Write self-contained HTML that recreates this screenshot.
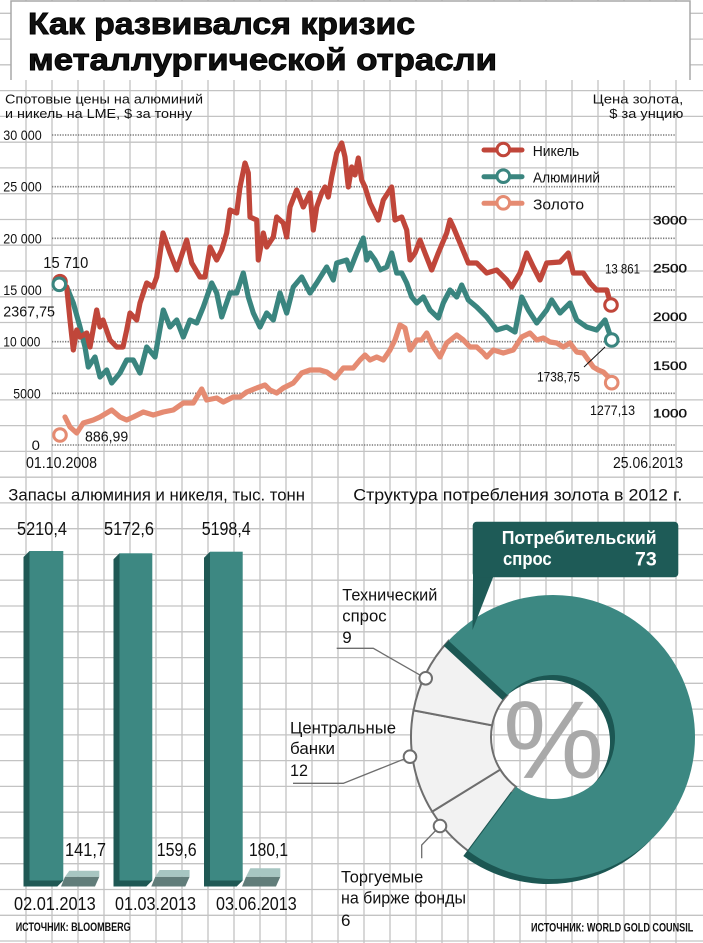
<!DOCTYPE html>
<html><head><meta charset="utf-8">
<style>
html,body{margin:0;padding:0;background:#fff;}
svg{display:block;}
text{font-family:"Liberation Sans","DejaVu Sans",sans-serif;fill:#111;}
</style></head>
<body>
<svg width="703" height="943" viewBox="0 0 703 943" xmlns="http://www.w3.org/2000/svg">
<rect width="703" height="943" fill="#fff"/>
<!-- grid -->
<path stroke="#c3c3c3" stroke-width="1.3" fill="none" d="M26 0V943M52 0V943M78 0V943M104 0V943M130 0V943M156 0V943M182 0V943M208 0V943M234 0V943M260 0V943M286 0V943M312 0V943M338 0V943M364 0V943M390 0V943M416 0V943M442 0V943M468 0V943M494 0V943M520 0V943M546 0V943M572 0V943M598 0V943M624 0V943M650 0V943M676 0V943
M0 13.3H703M0 39.1H703M0 64.8H703M0 90.6H703M0 116.4H703M0 142.2H703M0 167.9H703M0 193.7H703M0 219.5H703M0 245.2H703M0 271H703M0 296.8H703M0 322.5H703M0 348.3H703M0 374.1H703M0 399.9H703M0 425.6H703M0 451.4H703M0 477.2H703M0 502.9H703M0 528.7H703M0 554.5H703M0 580.2H703M0 606H703M0 631.8H703M0 657.6H703M0 683.3H703M0 709.1H703M0 734.9H703M0 760.6H703M0 786.4H703M0 812.2H703M0 837.9H703M0 863.7H703M0 889.5H703M0 915.3H703M0 941H703"/>
<!-- title box -->
<rect x="11" y="1" width="679" height="79" fill="#fff"/>
<path d="M11 80V1H690V80" fill="none" stroke="#a8a8a8" stroke-width="1.5"/>
<text x="28" y="34" font-size="31" font-weight="bold" stroke="#000" stroke-width="0.9" textLength="387" lengthAdjust="spacingAndGlyphs">Как развивался кризис</text>
<text x="28" y="70" font-size="31" font-weight="bold" stroke="#000" stroke-width="0.9" textLength="469" lengthAdjust="spacingAndGlyphs">металлургической отрасли</text>

<!-- subtitles -->
<text x="5" y="103.5" font-size="13" textLength="198" lengthAdjust="spacingAndGlyphs">Спотовые цены на алюминий</text>
<text x="5" y="118" font-size="13" textLength="187" lengthAdjust="spacingAndGlyphs">и никель на LME, $ за тонну</text>
<text x="592.7" y="103.5" font-size="13" textLength="90.6" lengthAdjust="spacingAndGlyphs">Цена золота,</text>
<text x="609.3" y="118" font-size="13" textLength="74" lengthAdjust="spacingAndGlyphs">$ за унцию</text>

<!-- dotted lines -->
<path stroke="#7a7a7a" stroke-width="1.6" stroke-dasharray="1.3 1.3" fill="none" d="M52 135H675M52 186.7H675M52 238.3H675M52 290H675M52 341.7H675M52 393.3H675M52 445H675"/>

<!-- left axis -->
<g font-size="14">
<text x="3.3" y="140" textLength="38.4" lengthAdjust="spacingAndGlyphs">30 000</text>
<text x="3.3" y="191.7" textLength="38.4" lengthAdjust="spacingAndGlyphs">25 000</text>
<text x="3.3" y="243.3" textLength="38.4" lengthAdjust="spacingAndGlyphs">20 000</text>
<text x="3.3" y="295" textLength="38.4" lengthAdjust="spacingAndGlyphs">15 000</text>
<text x="3.3" y="346.7" textLength="37" lengthAdjust="spacingAndGlyphs">10 000</text>
<text x="13.3" y="398.3" textLength="27.4" lengthAdjust="spacingAndGlyphs">5000</text>
<text x="31.7" y="450" textLength="8.3" lengthAdjust="spacingAndGlyphs">0</text>
</g>
<!-- right axis -->
<g font-size="12" stroke="#111" stroke-width="0.35">
<text x="653" y="224.3" textLength="34" lengthAdjust="spacingAndGlyphs">3000</text>
<text x="653" y="272.7" textLength="34" lengthAdjust="spacingAndGlyphs">2500</text>
<text x="653" y="321" textLength="34" lengthAdjust="spacingAndGlyphs">2000</text>
<text x="653" y="370" textLength="34" lengthAdjust="spacingAndGlyphs">1500</text>
<text x="653" y="417.7" textLength="34" lengthAdjust="spacingAndGlyphs">1000</text>
</g>
<text x="26" y="468" font-size="16" textLength="71" lengthAdjust="spacingAndGlyphs">01.10.2008</text>
<text x="613" y="468" font-size="16" textLength="70" lengthAdjust="spacingAndGlyphs">25.06.2013</text>

<!-- series -->
<g fill="none" stroke-width="5.2" stroke-linejoin="round" stroke-linecap="round">
<polyline stroke="#e58b72" points="65,417 70,427 76.7,433 83.3,423 93.3,420 100,417 106.7,413 111.7,410 120,417 126.7,420 133.3,417 143.3,412 153.3,415 163.3,412 173.3,410 183.3,403 193.3,403 201.7,389 206.7,400 216.7,398 223.3,402 233.3,397 240,397 246.7,392 256.7,388 265,385 270,390 276.7,393 283.3,388 293.3,383 301.7,373 310,370 320,370 326.7,372 335,378 343.3,368 353.3,368 360,360 365,355 370,360 376.7,357 383.3,360 390,350 395,340 400,325 405,328 410,350 416.7,340 421.7,340 426.7,333 433.3,347 440,357 446.7,343 456.7,335 463.3,340 470,347 476.7,347 483.3,353 486.7,357 493.3,350 503.3,353 513.3,350 521.7,337 530,333 536.7,340 543.3,338 550,342 556.7,343 563.3,347 570,343 576.7,352 583.3,353 588.3,360 593.3,367 598.3,370 603.3,372 608.3,377 611.7,383"/>
<polyline stroke="#3a857f" points="59.3,284 66.7,287 73.3,303 80,327 85,347 88.3,367 95,357 100,377 106.7,370 111.7,383 120,373 126.7,360 133.3,360 140,373 146.7,347 155,357 163.3,310 170,327 176.7,320 183.3,337 190,320 196.7,323 203.3,307 211.7,283 216.7,293 221.7,317 230,293 236.7,293 243.3,273 248.3,297 253.3,313 260,327 266.7,313 273.3,320 280,293 286.7,313 293.3,287 301.7,277 310,293 316.7,283 326.7,267 333.3,280 336.7,263 346.7,260 350,270 356.7,253 363.3,238 366.7,260 370,253 375,260 380,270 386.7,267 391.7,253 396.7,273 401.7,273 406.7,283 411.7,297 416.7,303 423.3,297 430,310 438.3,318 443.3,303 450,290 456.7,297 461.7,285 468.3,300 476.7,307 486.7,317 496.7,330 506.7,327 515,332 521.7,297 528.3,310 536.7,323 546.7,310 551.7,300 560,313 570,303 576.7,320 586.7,327 596.7,330 605,320 611.7,340"/>
<polyline stroke="#c0463a" points="60,282 66.7,287 70,320 73.3,350 76.7,330 80,337 86.7,333 90,347 96.7,310 100,327 103,320 110,340 116.7,347 123,347 126.7,330 130,313 136.7,320 140,303 146.7,283 153,287 156.7,277 163,233 170,253 176.7,270 186.7,240 191.7,263 200,277 205,277 210,247 216.7,260 221.7,250 226.7,233 230,210 236.7,213 240,187 245,163 248.3,173 250,217 256.7,220 258.3,260 263.3,233 266.7,247 273.3,237 276.7,217 283.3,223 286.7,237 290,207 296.7,190 303.3,207 310,193 313.3,230 316.7,207 321.7,193 325,187 328.3,197 331.7,177 336.7,153 341.7,143 345,157 348.3,187 351.7,167 355,175 358.3,158 361.7,180 365,187 370,203 375,213 378.3,220 383.3,200 391.7,187 395,220 401.7,217 406.7,230 410,260 415,253 420,240 425,253 431.7,270 438.3,253 446.7,233 450,220 453.3,227 460,243 468.3,263 476.7,263 486.7,273 496.7,270 506.7,280 511.7,287 520,273 526.7,253 533.3,267 540,280 546.7,263 560,262 568.3,253 573.3,273 583.3,273 590,283 596.7,290 606.7,290 611,305"/>
</g>
<g fill="#fff" stroke-width="3">
<circle cx="60" cy="281.7" r="6.3" stroke="#c0463a"/>
<circle cx="59.3" cy="284.3" r="6.3" stroke="#3a857f"/>
<circle cx="60" cy="435" r="6.3" stroke="#e58b72"/>
<circle cx="611" cy="305" r="6.3" stroke="#c0463a"/>
<circle cx="611.7" cy="340" r="6.3" stroke="#3a857f"/>
<circle cx="611.7" cy="382.7" r="6.3" stroke="#e58b72"/>
</g>
<line x1="584" y1="367" x2="605" y2="347" stroke="#111" stroke-width="1"/>
<text x="43.3" y="268" font-size="16" textLength="45" lengthAdjust="spacingAndGlyphs">15 710</text>
<text x="3.3" y="316.7" font-size="15" textLength="51.7" lengthAdjust="spacingAndGlyphs">2367,75</text>
<text x="85" y="441.7" font-size="15" textLength="43.3" lengthAdjust="spacingAndGlyphs">886,99</text>
<text x="605" y="273.3" font-size="14" textLength="35" lengthAdjust="spacingAndGlyphs">13 861</text>
<text x="537" y="381.7" font-size="14" textLength="43" lengthAdjust="spacingAndGlyphs">1738,75</text>
<text x="590" y="415" font-size="14" textLength="45" lengthAdjust="spacingAndGlyphs">1277,13</text>

<!-- legend -->
<g stroke-width="5" stroke-linecap="round">
<line x1="484" y1="150" x2="522" y2="150" stroke="#c0463a"/>
<line x1="484" y1="176.7" x2="522" y2="176.7" stroke="#3a857f"/>
<line x1="484" y1="203.3" x2="522" y2="203.3" stroke="#e58b72"/>
</g>
<g fill="#fff" stroke-width="3">
<circle cx="503.3" cy="149.5" r="6.3" stroke="#c0463a"/>
<circle cx="503.3" cy="176.2" r="6.3" stroke="#3a857f"/>
<circle cx="503.3" cy="202.8" r="6.3" stroke="#e58b72"/>
</g>
<text x="532.7" y="156" font-size="15" textLength="46.6" lengthAdjust="spacingAndGlyphs">Никель</text>
<text x="533" y="182.7" font-size="15" textLength="67" lengthAdjust="spacingAndGlyphs">Алюминий</text>
<text x="533" y="209.3" font-size="15" textLength="51" lengthAdjust="spacingAndGlyphs">Золото</text>

<!-- bar chart -->
<text x="8.3" y="500.7" font-size="17" textLength="296.7" lengthAdjust="spacingAndGlyphs">Запасы алюминия и никеля, тыс. тонн</text>
<g font-size="18.5">
<text x="17" y="535" textLength="50" lengthAdjust="spacingAndGlyphs">5210,4</text>
<text x="104" y="535" textLength="50" lengthAdjust="spacingAndGlyphs">5172,6</text>
<text x="201.7" y="535" textLength="49" lengthAdjust="spacingAndGlyphs">5198,4</text>
<text x="65" y="856" textLength="41" lengthAdjust="spacingAndGlyphs">141,7</text>
<text x="156.7" y="856" textLength="40" lengthAdjust="spacingAndGlyphs">159,6</text>
<text x="249" y="856" textLength="39" lengthAdjust="spacingAndGlyphs">180,1</text>
<text x="14" y="910" textLength="81.7" lengthAdjust="spacingAndGlyphs">02.01.2013</text>
<text x="115" y="910" textLength="81" lengthAdjust="spacingAndGlyphs">01.03.2013</text>
<text x="216" y="910" textLength="80.7" lengthAdjust="spacingAndGlyphs">03.06.2013</text>
</g>
<!-- big bars -->
<polygon points="29.5,551 23.5,557 23.5,886.5 57.3,886.5 63.3,880.5 29.5,880.5" fill="#1f5854"/>
<rect x="29.5" y="551" width="33.8" height="329.5" fill="#3d8882"/>
<polygon points="119.5,553.3 113.5,559.3 113.5,886.5 146.3,886.5 152.3,880.5 119.5,880.5" fill="#1f5854"/>
<rect x="119.5" y="553.3" width="32.8" height="327.2" fill="#3d8882"/>
<polygon points="210,551.7 204,557.7 204,886.5 236.7,886.5 242.7,880.5 210,880.5" fill="#1f5854"/>
<rect x="210" y="551.7" width="32.7" height="328.8" fill="#3d8882"/>
<!-- small bars -->
<polygon points="65,876.7 99.3,876.7 95,886.5 61,886.5" fill="#617d7a"/>
<polygon points="69.3,870.7 99.3,870.7 99.3,876.7 65,876.7" fill="#a7c6c2"/>
<polygon points="155.3,876.7 189.6,876.7 185.3,886.5 151.3,886.5" fill="#617d7a"/>
<polygon points="159.6,870 189.6,870 189.6,876.7 155.3,876.7" fill="#a7c6c2"/>
<polygon points="246,876.7 280.3,876.7 276,886.5 242,886.5" fill="#617d7a"/>
<polygon points="250.3,868.3 280.3,868.3 280.3,876.7 246,876.7" fill="#a7c6c2"/>
<text x="15.7" y="931" font-size="12" font-weight="bold" textLength="115" lengthAdjust="spacingAndGlyphs">ИСТОЧНИК: BLOOMBERG</text>

<!-- donut -->
<text x="353.3" y="500.7" font-size="17" textLength="329" lengthAdjust="spacingAndGlyphs">Структура потребления золота в 2012 г.</text>
<g fill="#f2f2f2" stroke="#6e6e6e" stroke-width="2">
<path d="M468.34,851.0 A142,142 0 0 1 432.19,811.62 L500.25,769.58 A62,62 0 0 0 516.04,786.77 Z"/>
<path d="M432.19,811.62 A142,142 0 0 1 413.51,710.39 L492.10,725.38 A62,62 0 0 0 500.25,769.58 Z"/>
<path d="M413.51,710.39 A142,142 0 0 1 448.64,640.70 L507.44,694.95 A62,62 0 0 0 492.10,725.38 Z"/>
</g>
<path transform="translate(-5,5)" fill="#1c5753" d="M448.64,640.70 A142,142 0 1 1 468.34,851.0 L516.04,786.77 A62,62 0 1 0 507.44,694.95 Z"/>
<path fill="#3c8882" d="M448.64,640.70 A142,142 0 1 1 468.34,851.0 L516.04,786.77 A62,62 0 1 0 507.44,694.95 Z"/>
<text x="503" y="778" font-size="110" fill="#a9a9a9" style="fill:#a9a9a9" textLength="101" lengthAdjust="spacingAndGlyphs">%</text>
<!-- leaders -->
<g fill="none" stroke="#6e6e6e" stroke-width="1.3">
<polyline points="425.7,678.3 373.3,648.3 336.7,648.3"/>
<polyline points="410,756.7 343.3,783.3 293,783.3"/>
<polyline points="440,826 421.7,845 421.7,858.3"/>
</g>
<g fill="#fff" stroke="#6e6e6e" stroke-width="2">
<circle cx="425.7" cy="678.3" r="6.3"/>
<circle cx="410" cy="756.7" r="6.3"/>
<circle cx="440" cy="826" r="6.3"/>
</g>
<!-- callout -->
<polygon points="473,575 494,575 472.5,630" fill="#1e5b57"/>
<rect x="472.7" y="521.7" width="205.6" height="55.6" rx="4" fill="#1e5b57"/>
<text x="501.7" y="544" font-size="18" font-weight="bold" style="fill:#fff" textLength="155" lengthAdjust="spacingAndGlyphs">Потребительский</text>
<text x="503" y="565" font-size="18" font-weight="bold" style="fill:#fff" textLength="48.7" lengthAdjust="spacingAndGlyphs">спрос</text>
<text x="635" y="565.7" font-size="19" font-weight="bold" style="fill:#fff" textLength="21.7" lengthAdjust="spacingAndGlyphs">73</text>
<!-- donut labels -->
<g font-size="17">
<text x="342.3" y="600.7" textLength="95" lengthAdjust="spacingAndGlyphs">Технический</text>
<text x="342.3" y="621.7" textLength="44.3" lengthAdjust="spacingAndGlyphs">спрос</text>
<text x="342.3" y="643">9</text>
<text x="290" y="733.3" textLength="106" lengthAdjust="spacingAndGlyphs">Центральные</text>
<text x="290" y="754" textLength="45" lengthAdjust="spacingAndGlyphs">банки</text>
<text x="290" y="776" textLength="18" lengthAdjust="spacingAndGlyphs">12</text>
<text x="341" y="882.7" textLength="82.3" lengthAdjust="spacingAndGlyphs">Торгуемые</text>
<text x="341" y="903.3" textLength="125" lengthAdjust="spacingAndGlyphs">на бирже фонды</text>
<text x="341" y="926">6</text>
</g>
<text x="531" y="931.5" font-size="12" font-weight="bold" textLength="162.3" lengthAdjust="spacingAndGlyphs">ИСТОЧНИК: WORLD GOLD COUNSIL</text>
</svg>
</body></html>
